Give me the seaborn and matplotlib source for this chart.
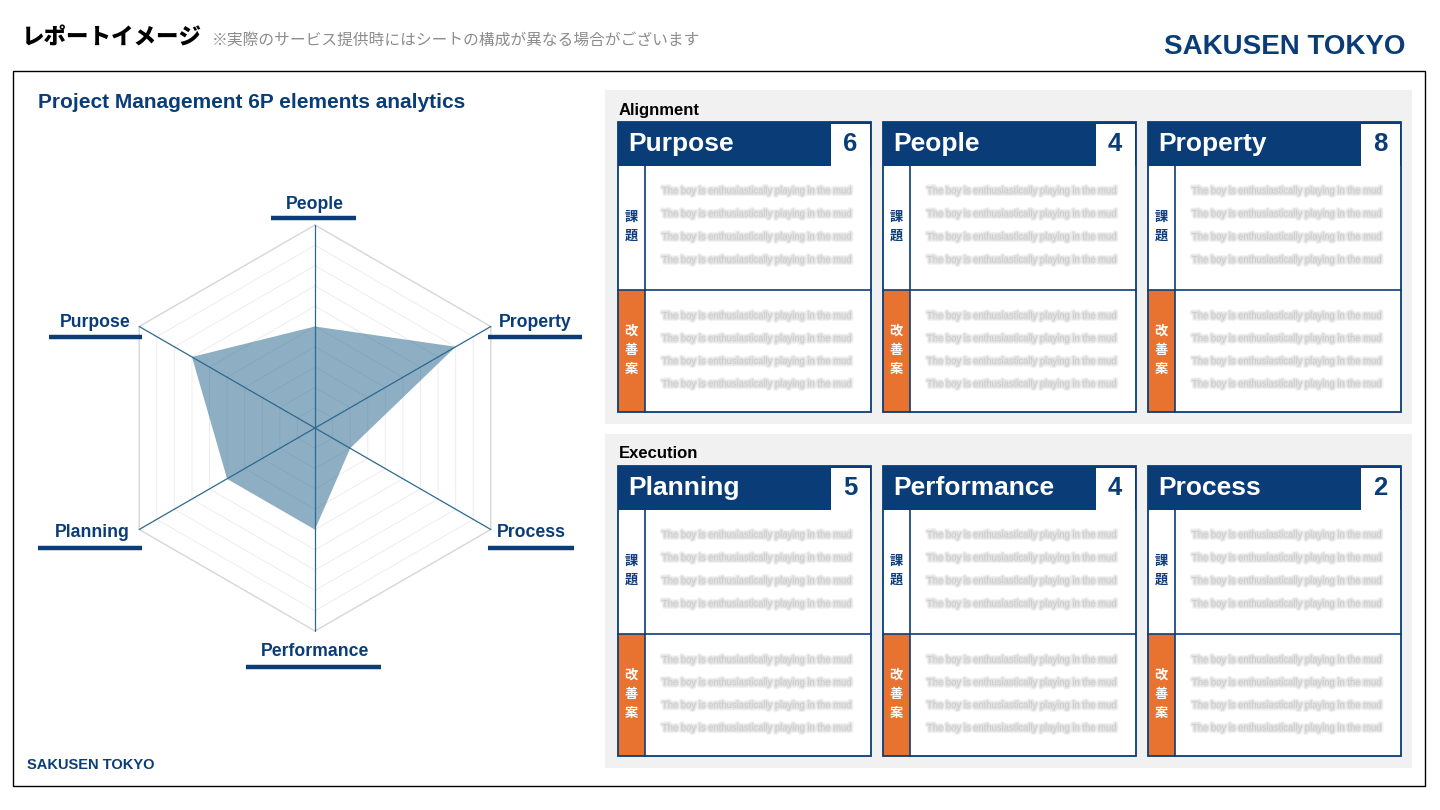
import numpy as np
import matplotlib
matplotlib.use("Agg")
import matplotlib.pyplot as plt
import matplotlib.patheffects as pe
from matplotlib.patches import Rectangle
import seaborn as sns

# ---------------- data ----------------
radar_axes = ["People", "Property", "Process", "Performance", "Planning", "Purpose"]  # clockwise from top
radar_values = [5, 8, 2, 5, 5, 7]
scale_max = 10
grid_levels = list(range(1, 11))

groups = ["Alignment", "Execution"]
card_names = [["Purpose", "People", "Property"], ["Planning", "Performance", "Process"]]
card_scores = [[6, 4, 8], [5, 4, 2]]
issue_label = "課題"
improve_label = "改善案"
placeholder = "The boy is enthusiastically playing in the mud"
page_title = "レポートイメージ"
page_note = "※実際のサービス提供時にはシートの構成が異なる場合がございます"
brand = "SAKUSEN TOKYO"
chart_title = "Project Management 6P elements analytics"

# ---------------- style ----------------
NAVY = "#0A3D78"
ORANGE = "#E87330"
PANEL = "#F1F1F1"
SPOKE = "#2B6A8F"
FILL = "#1F5F88"

sns.set_theme(style="white")
plt.rcParams["font.family"] = ["Liberation Sans", "Noto Sans CJK JP", "DejaVu Sans"]
JP = ["Noto Sans CJK JP", "DejaVu Sans"]

fig = plt.figure(figsize=(14.4, 8.1), dpi=100)
fig.patch.set_facecolor("white")

bg = fig.add_axes([0, 0, 1, 1])
bg.set_xlim(0, 1440)
bg.set_ylim(810, 0)
bg.axis("off")

# header
bg.text(22, 38, page_title, fontsize=16.2, weight="black", family=JP, va="center", color="black")
bg.text(212, 40, page_note, fontsize=11.3, family=JP, va="center", color="#8C8C8C")
bg.text(1405, 47, brand, fontsize=20, weight="bold", ha="right", va="center", color=NAVY)

# frame
bg.add_patch(Rectangle((13, 71), 1412, 715, fill=False, ec="black", lw=1))
bg.text(38, 103, chart_title, fontsize=15, weight="bold", va="center", color=NAVY)
bg.text(27, 765, brand, fontsize=10.5, weight="bold", va="center", color=NAVY)

# ---------------- cards ----------------
blur = [pe.Stroke(linewidth=3.6, foreground="#F2F2F2"),
        pe.Stroke(linewidth=2.0, foreground="#E3E3E3"), pe.Normal()]
for gi, group in enumerate(groups):
    top = [90, 434][gi]
    bg.add_patch(Rectangle((605, top), 807, 334, fc=PANEL, ec="none"))
    bg.text(619, top + 20, group, fontsize=12, weight="bold", va="center", color="black")
    for ci, (name, score) in enumerate(zip(card_names[gi], card_scores[gi])):
        x0 = 618 + ci * 265
        y0 = top + 32
        w = 253
        bg.add_patch(Rectangle((x0, y0 + 44), w, 246, fc="white", ec="none"))
        bg.add_patch(Rectangle((x0, y0), w, 44, fc=NAVY, ec="none"))
        bg.add_patch(Rectangle((x0 + w - 40, y0 + 1.5), 38.5, 42.5, fc="white", ec="none"))
        bg.add_patch(Rectangle((x0, y0 + 168), 27, 122, fc=ORANGE, ec="none"))
        bg.plot([x0 + 27, x0 + 27], [y0 + 44, y0 + 290], color=NAVY, lw=1.2)
        bg.plot([x0, x0 + w], [y0 + 168, y0 + 168], color=NAVY, lw=1.2)
        bg.add_patch(Rectangle((x0, y0), w, 290, fill=False, ec=NAVY, lw=1.3))
        bg.text(x0 + 10, y0 + 22, name, fontsize=19, weight="bold", color="white", va="center")
        bg.text(x0 + w - 21, y0 + 22, str(score), fontsize=18.5, weight="bold", color=NAVY,
                va="center", ha="center")
        for k, ch in enumerate(issue_label):
            bg.text(x0 + 13, y0 + 95 + 19 * k, ch, fontsize=9.5, weight="bold", family=JP,
                    color=NAVY, ha="center", va="center")
        for k, ch in enumerate(improve_label):
            bg.text(x0 + 13, y0 + 209 + 19 * k, ch, fontsize=9.5, weight="bold", family=JP,
                    color="white", ha="center", va="center")
        for k in range(4):
            for ys in (y0 + 69 + 23 * k, y0 + 194 + 22.7 * k):
                bg.text(x0 + 44, ys, placeholder, fontsize=6.8, color="#CACACA",
                        va="center", path_effects=blur)

# ---------------- radar ----------------
cx, cy, R, L = 315, 428, 203, 1.25
side = 2 * L * R
ax = fig.add_axes([(cx - side / 2) / 1440, (810 - cy - side / 2) / 810, side / 1440, side / 810])
ax.set_xlim(-L, L)
ax.set_ylim(-L, L)
ax.axis("off")
ax.patch.set_alpha(0)

n = len(radar_axes)
theta = np.pi / 2 - np.arange(n) * 2 * np.pi / n
theta_closed = np.append(theta, theta[0])

for lvl in grid_levels:
    r = lvl / scale_max
    outer = lvl == grid_levels[-1]
    sns.lineplot(x=r * np.cos(theta_closed), y=r * np.sin(theta_closed), sort=False,
                 estimator=None, color="#D6D6D6" if outer else "#EDEDED",
                 lw=1.0 if outer else 0.7, ax=ax, zorder=1)

vals = np.array(radar_values) / scale_max
ax.fill(vals * np.cos(theta), vals * np.sin(theta), color=FILL, alpha=0.5, lw=0, zorder=2)

for t in theta:
    ax.plot([0, np.cos(t)], [0, np.sin(t)], color=SPOKE, lw=0.9, zorder=3)

label_layout = {
    "People": (0.0, 1.103, -0.217, 0.202, 1.034),
    "Property": (1.084, 0.522, 0.852, 1.315, 0.448),
    "Process": (1.064, -0.517, 0.852, 1.276, -0.591),
    "Performance": (0.0, -1.099, -0.34, 0.325, -1.177),
    "Planning": (-1.098, -0.517, -1.365, -0.852, -0.591),
    "Purpose": (-1.084, 0.522, -1.31, -0.852, 0.448),
}
for name in radar_axes:
    lx, ly, bx0, bx1, by = label_layout[name]
    ax.text(lx, ly, name, fontsize=12.7, weight="bold", color=NAVY, ha="center",
            va="center", clip_on=False)
    ax.plot([bx0, bx1], [by, by], color=NAVY, lw=3.2, solid_capstyle="butt", clip_on=False)

fig.savefig("out.png", dpi=100, facecolor="white")
